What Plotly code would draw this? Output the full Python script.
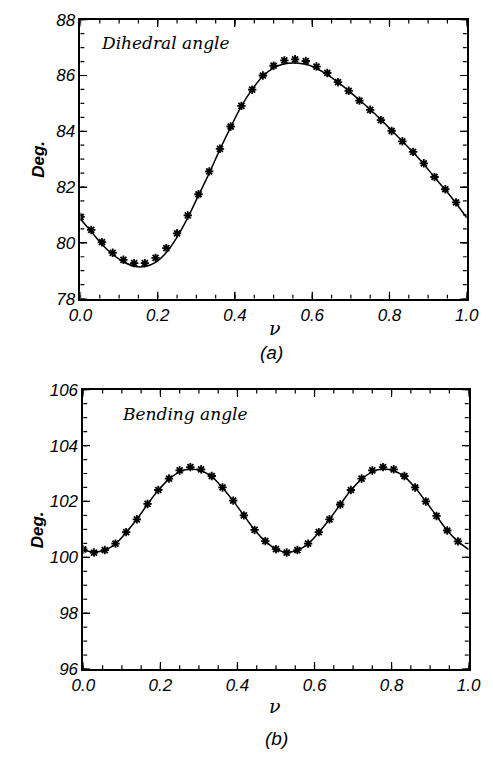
import plotly.graph_objects as go

# ---------------- data ----------------
nu_pts = [k / 36 for k in range(36)]
nu_curve = [k / 36 for k in range(37)]

dihedral_pts = [80.93, 80.46, 80.02, 79.64, 79.39, 79.27, 79.27, 79.46, 79.81, 80.34,
                80.98, 81.74, 82.56, 83.37, 84.17, 84.91, 85.49, 86.00, 86.35, 86.54,
                86.58, 86.52, 86.32, 86.09, 85.76, 85.45, 85.10, 84.77, 84.40, 84.01,
                83.64, 83.26, 82.85, 82.36, 81.92, 81.45]
dihedral_fit = [80.85, 80.40, 79.95, 79.58, 79.32, 79.16, 79.15, 79.30, 79.65, 80.20,
                80.90, 81.70, 82.50, 83.35, 84.15, 84.90, 85.50, 85.97, 86.27, 86.42,
                86.45, 86.40, 86.25, 86.03, 85.75, 85.45, 85.12, 84.78, 84.42, 84.03,
                83.64, 83.24, 82.82, 82.35, 81.90, 81.42, 80.90]

bending_pts = [100.28, 100.17, 100.26, 100.49, 100.90, 101.36, 101.91, 102.41, 102.82, 103.11,
               103.23, 103.15, 102.91, 102.50, 102.03, 101.50, 100.98, 100.58, 100.29, 100.17,
               100.26, 100.49, 100.90, 101.36, 101.89, 102.41, 102.82, 103.11, 103.23, 103.15,
               102.91, 102.50, 102.00, 101.48, 100.96, 100.57]
bending_fit = [100.26, 100.19, 100.25, 100.48, 100.89, 101.36, 101.90, 102.40, 102.80, 103.06,
               103.16, 103.10, 102.89, 102.49, 102.02, 101.50, 100.98, 100.58, 100.29, 100.18,
               100.25, 100.48, 100.89, 101.36, 101.89, 102.40, 102.80, 103.06, 103.16, 103.10,
               102.89, 102.49, 102.00, 101.48, 100.96, 100.57, 100.28]

x_ticks = [0.0, 0.2, 0.4, 0.6, 0.8, 1.0]
x_ticklabels = ["0.0", "0.2", "0.4", "0.6", "0.8", "1.0"]
y1_ticks = [78, 80, 82, 84, 86, 88]
y2_ticks = [96, 98, 100, 102, 104, 106]

panel_titles = ["Dihedral angle", "Bending angle"]
panel_labels = ["(a)", "(b)"]
x_title = "ν"
y_title = "Deg."

# ---------------- figure ----------------
W, H = 493, 758
fig = go.Figure()

tickfont = dict(family="Liberation Sans", size=17, color="black")
marker = dict(symbol="asterisk-open", size=7, color="black", line=dict(color="black", width=1.8))

for i, (pts, fit) in enumerate([(dihedral_pts, dihedral_fit), (bending_pts, bending_fit)]):
    xa, ya = ("x", "y") if i == 0 else ("x2", "y2")
    fig.add_trace(go.Scatter(x=nu_curve, y=fit, mode="lines",
                             line=dict(color="black", width=1.5, shape="spline"),
                             xaxis=xa, yaxis=ya, showlegend=False, hoverinfo="skip"))
    fig.add_trace(go.Scatter(x=nu_pts, y=pts, mode="markers", marker=marker,
                             xaxis=xa, yaxis=ya, showlegend=False))

major = dict(ticks="inside", ticklen=7, tickwidth=1, tickcolor="black", mirror="allticks",
             showline=True, linecolor="black", linewidth=1.8, showgrid=False, zeroline=False,
             tickfont=tickfont, tickmode="array")

dom_x_top = [72 / W, 478 / W]
dom_x_bot = [75 / W, 480 / W]
dom_y_top = [(H - 297) / H, (H - 11) / H]
dom_y_bot = [(H - 677) / H, (H - 390.5) / H]

def xmajor(domain, anchor):
    return dict(domain=domain, anchor=anchor, range=[0, 1], tickvals=x_ticks,
                ticktext=["<i>%s</i>" % t for t in x_ticklabels], **major)

def ymajor(domain, anchor, tv):
    return dict(domain=domain, anchor=anchor, range=[tv[0], tv[-1]], tickvals=tv,
                ticktext=["<i>%d</i>" % t for t in tv], **major)

fig.update_layout(
    width=W, height=H, margin=dict(l=0, r=0, t=0, b=0),
    paper_bgcolor="white", plot_bgcolor="white",
    xaxis=xmajor(dom_x_top, "y"),
    yaxis=ymajor(dom_y_top, "x", y1_ticks),
    xaxis2=xmajor(dom_x_bot, "y2"),
    yaxis2=ymajor(dom_y_bot, "x2", y2_ticks),
)

# ---- tick marks drawn as axis-referenced shapes (major + minor, mirrored on all sides) ----
def add_ticks(xref, yref, xdom, ydom, yticks):
    wpx = (xdom[1] - xdom[0]) * W
    hpx = (ydom[1] - ydom[0]) * H
    x_major_vals = x_ticks
    x_minor_vals = [round(0.05 * k, 4) for k in range(21)]
    y_major_vals = yticks
    y_minor_vals = [yticks[0] + 0.5 * k for k in range(int((yticks[-1] - yticks[0]) / 0.5) + 1)]
    for vals, L in [(x_minor_vals, 4), (x_major_vals, 7)]:
        f = L / hpx
        for v in vals:
            for y0, y1 in [(0, f), (1, 1 - f)]:
                fig.add_shape(type="line", xref=xref, yref=yref + " domain", x0=v, x1=v, y0=y0, y1=y1,
                              line=dict(color="black", width=1.2), layer="above")
    for vals, L in [(y_minor_vals, 4), (y_major_vals, 7)]:
        f = L / wpx
        for v in vals:
            for x0, x1 in [(0, f), (1, 1 - f)]:
                fig.add_shape(type="line", xref=xref + " domain", yref=yref, x0=x0, x1=x1, y0=v, y1=v,
                              line=dict(color="black", width=1.2), layer="above")

add_ticks("x", "y", dom_x_top, dom_y_top, y1_ticks)
add_ticks("x2", "y2", dom_x_bot, dom_y_bot, y2_ticks)

# ---- text ----
ann_font_title = dict(family="DejaVu Serif", size=17, color="black")
ann = []
ann.append(dict(x=91, y=35, text="<i>%s</i>" % panel_titles[0], font=ann_font_title))
ann.append(dict(x=114, y=415, text="<i>%s</i>" % panel_titles[1], font=ann_font_title))
for yy in [327, 715]:
    ann.append(dict(x=276, y=yy, text="<i>%s</i>" % x_title, xanchor="center",
                    font=dict(family="DejaVu Serif", size=19, color="black")))
for yy in [154, 534]:
    ann.append(dict(x=27, y=yy, text="<b><i>%s</i></b>" % y_title, xanchor="center", textangle=-90,
                    font=dict(family="Liberation Sans", size=17, color="black")))
for xx, yy, t in [(273, 352, panel_labels[0]), (278, 748, panel_labels[1])]:
    ann.append(dict(x=xx, y=yy, text="<i>%s</i>" % t, xanchor="center",
                    font=dict(family="Liberation Sans", size=19, color="black")))

for a in ann:
    fig.add_annotation(x=a["x"] / W, y=1 - a["y"] / H, xref="paper", yref="paper", text=a["text"],
                       showarrow=False, xanchor=a.get("xanchor", "left"), yanchor="middle", font=a["font"],
                       textangle=a.get("textangle", 0))

fig.write_html("out.html")
